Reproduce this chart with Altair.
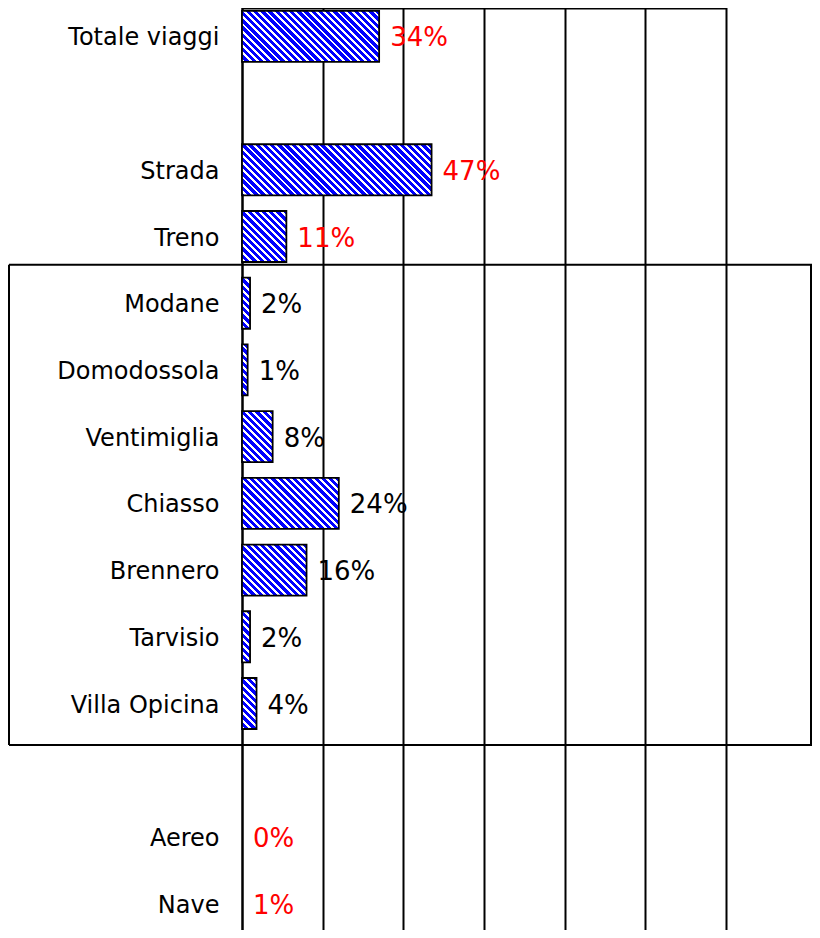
import altair as alt

# ---------------- data ----------------
categories = ["Totale viaggi", " ", "Strada", "Treno", "Modane", "Domodossola",
              "Ventimiglia", "Chiasso", "Brennero", "Tarvisio", "Villa Opicina",
              "  ", "Aereo", "Nave"]
bar_values = [34, None, 47, 11, 2, 1.4, 7.6, 24, 16, 2, 3.6, None, None, None]
label_texts = ["34%", "", "47%", "11%", "2%", "1%", "8%", "24%", "16%", "2%", "4%",
               "", "0%", "1%"]
groups = ["mode", None, "mode", "mode", "crossing", "crossing", "crossing",
          "crossing", "crossing", "crossing", "crossing", None, "mode", "mode"]
grid_values = [0, 20, 40, 60, 80, 100, 120]
box_rows = [{"top": "Modane", "bottom": "Villa Opicina"}]

# ---------------- layout ----------------
X_MAX = 120
PLOT_W = 484
PLOT_H = 922
RANGE_TOP, RANGE_BOTTOM = -5, 929
PAD_INNER = 0.235
STEP = (RANGE_BOTTOM - RANGE_TOP) / len(categories)
BAND = STEP * (1 - PAD_INNER)
PX_PER_UNIT = PLOT_W / X_MAX
FONT = "DejaVu Sans"


def stripe_fill(v, period=7.2, slope=1.0, blue_frac=0.6):
    """Diagonal blue/white stripes as a linear gradient in bar-bbox units."""
    W = max(v * PX_PER_UNIT, 0.5)
    H = BAND
    R = slope * W + H
    a = -slope * W / R
    b = H / R
    n2 = a * a + b * b
    dx, dy = a / n2, b / n2
    pt = period * slope / R
    stops = []
    k = 0
    while k * pt < 1:
        s = k * pt
        mid = min(s + blue_frac * pt, 1.0)
        e = min((k + 1) * pt, 1.0)
        stops += [(s, "#0000ff"), (mid, "#0000ff"), (mid, "#ffffff"), (e, "#ffffff")]
        k += 1
    return {"gradient": "linear", "x1": 1, "y1": 0, "x2": 1 + dx, "y2": dy,
            "stops": [{"offset": round(o, 5), "color": c} for o, c in stops]}


bar_records = [{"category": c, "value": v, "fill": stripe_fill(v)}
               for c, v in zip(categories, bar_values) if v is not None]
label_records = [{"category": c, "pos": (v if v is not None else 0), "label": t, "group": g}
                 for c, v, t, g in zip(categories, bar_values, label_texts, groups) if t]

yscale = alt.Scale(domain=categories, range=[RANGE_TOP, RANGE_BOTTOM],
                   paddingInner=PAD_INNER, paddingOuter=PAD_INNER / 2)
yaxis = alt.Axis(title=None, domain=True, domainColor="black", domainWidth=2,
                 ticks=False, tickSize=0, labelPadding=23, labelFont=FONT,
                 labelFontSize=24, labelColor="black", grid=False, labelLimit=400,
                 labelOffset=2)
xscale = alt.Scale(domain=[0, X_MAX], nice=False, zero=True)
xaxis = alt.Axis(orient="top", values=grid_values, labels=False, ticks=False, title=None,
                 domain=True, domainColor="black", domainWidth=2, grid=True,
                 gridColor="black", gridWidth=2, gridOpacity=1)

bars = alt.Chart(alt.Data(values=bar_records)).mark_bar(
    stroke="black", strokeWidth=1.8
).encode(
    y=alt.Y("category:N", scale=yscale, axis=yaxis),
    x=alt.X("value:Q", scale=xscale, axis=xaxis, stack=None),
    fill=alt.Fill("fill:N", scale=None),
)

labels = alt.Chart(alt.Data(values=label_records)).mark_text(
    align="left", baseline="middle", dx=11, dy=2, font=FONT, fontSize=26
).encode(
    y=alt.Y("category:N", scale=yscale, axis=yaxis),
    x=alt.X("pos:Q", scale=xscale, axis=xaxis),
    text="label:N",
    color=alt.Color("group:N", scale=alt.Scale(domain=["mode", "crossing"],
                                                range=["#ff0000", "#000000"]), legend=None),
)

box_base = alt.Chart(alt.Data(values=box_rows))
box_top = box_base.mark_rule(color="black", strokeWidth=2, yOffset=-13).encode(
    y=alt.Y("top:N", bandPosition=0, scale=yscale, axis=yaxis),
    x=alt.value(-233), x2=alt.value(570),
)
box_bottom = box_base.mark_rule(color="black", strokeWidth=2, yOffset=16).encode(
    y=alt.Y("bottom:N", bandPosition=1, scale=yscale, axis=yaxis),
    x=alt.value(-233), x2=alt.value(570),
)
box_left = box_base.mark_rule(color="black", strokeWidth=2, yOffset=-13, y2Offset=16).encode(
    y=alt.Y("top:N", bandPosition=0, scale=yscale, axis=yaxis),
    y2=alt.Y2("bottom:N", bandPosition=1),
    x=alt.value(-233),
)
box_right = box_base.mark_rule(color="black", strokeWidth=2, yOffset=-13, y2Offset=16).encode(
    y=alt.Y("top:N", bandPosition=0, scale=yscale, axis=yaxis),
    y2=alt.Y2("bottom:N", bandPosition=1),
    x=alt.value(569),
)

chart = alt.layer(bars, box_top, box_bottom, box_left, box_right, labels).properties(
    width=PLOT_W, height=PLOT_H,
    autosize=alt.AutoSizeParams(type="none"),
    padding={"left": 234, "top": 0, "right": 86, "bottom": 0},
    background="white",
).configure_view(stroke=None)

chart.save("out.html", embed_options={"renderer": "svg", "actions": False})
